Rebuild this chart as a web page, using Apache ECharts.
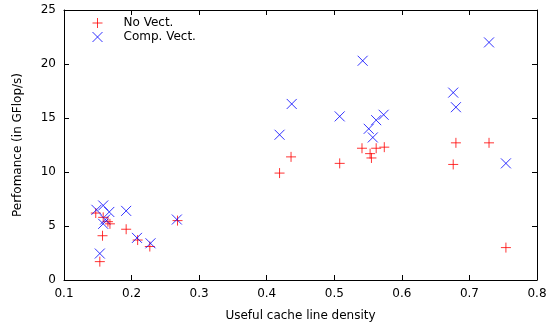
<!DOCTYPE html>
<html>
<head>
<meta charset="utf-8">
<script src="https://cdn.jsdelivr.net/npm/echarts@6/dist/echarts.min.js"></script>
<style>
  html, body { margin: 0; padding: 0; background: #fff; }
  #chart { width: 547px; height: 324px; }
</style>
</head>
<body>
<div id="chart"></div>
<script>
// values
const noVectX = [0.147, 0.158, 0.165, 0.168, 0.157, 0.153, 0.192, 0.209, 0.227, 0.268, 0.419, 0.436, 0.508, 0.541, 0.553, 0.555, 0.562, 0.574, 0.676, 0.680, 0.729, 0.754];
const noVectY = [6.2, 5.8, 5.4, 5.2, 4.1, 1.7, 4.7, 3.7, 3.1, 5.5, 9.9, 11.4, 10.8, 12.2, 11.7, 11.3, 12.2, 12.3, 10.7, 12.7, 12.7, 3.0];
const compX = [0.148, 0.158, 0.167, 0.161, 0.158, 0.153, 0.192, 0.208, 0.228, 0.267, 0.419, 0.437, 0.508, 0.542, 0.551, 0.557, 0.562, 0.573, 0.676, 0.680, 0.729, 0.754];
const compY = [6.5, 6.9, 6.3, 5.6, 5.2, 2.45, 6.4, 3.9, 3.4, 5.6, 13.45, 16.3, 15.15, 20.3, 14.0, 13.2, 14.8, 15.3, 17.35, 16.0, 22.0, 10.8];
const seriesNames = ["No Vect.", "Comp. Vect."];

const plus = "path://M0,5L10,5M5,0L5,10";
const cross = "path://M0,0L10,10M10,0L0,10";
const font = "DejaVu Sans";

const zip = (xs, ys) => xs.map((x, i) => [x, ys[i]]);

const tickIn = { show: true, inside: true, length: 5, lineStyle: { color: "#000" } };
const line = { show: true, onZero: false, lineStyle: { color: "#000", width: 1 } };
const redStyle = { color: "rgba(0,0,0,0)", borderColor: "#ff0000", borderWidth: 1 };
const blueStyle = { color: "rgba(0,0,0,0)", borderColor: "#0000ff", borderWidth: 1 };

const option = {
  animation: false,
  backgroundColor: "#fff",
  grid: { left: 64, right: 10, top: 10, bottom: 44, outerBoundsMode: "none" },
  legend: {
    left: 87,
    top: 12,
    orient: "vertical",
    itemWidth: 42,
    itemHeight: 10,
    itemGap: 2,
    textStyle: { fontFamily: font, fontSize: 12, color: "#000" },
    data: [
      { name: seriesNames[0], icon: plus, itemStyle: redStyle },
      { name: seriesNames[1], icon: cross, itemStyle: blueStyle }
    ]
  },
  xAxis: [
    {
      type: "value", min: 0.1, max: 0.8, interval: 0.1,
      name: "Useful cache line density", nameLocation: "middle", nameGap: 30,
      nameTextStyle: { fontFamily: font, fontSize: 12, color: "#000" },
      axisLine: line, axisTick: tickIn, splitLine: { show: false },
      axisLabel: { fontFamily: font, fontSize: 12, color: "#000", margin: 8,
        formatter: v => v.toFixed(1) }
    },
    {
      type: "value", position: "top", min: 0.1, max: 0.8, interval: 0.1,
      axisLine: line, axisTick: tickIn, splitLine: { show: false }, axisLabel: { show: false }
    }
  ],
  yAxis: [
    {
      type: "value", min: 0, max: 25, interval: 5,
      name: "Perfomance (in GFlop/s)", nameLocation: "middle", nameGap: 40,
      nameTextStyle: { fontFamily: font, fontSize: 12, color: "#000" },
      axisLine: line, axisTick: tickIn, splitLine: { show: false },
      axisLabel: { fontFamily: font, fontSize: 12, color: "#000", margin: 8 }
    },
    {
      type: "value", position: "right", min: 0, max: 25, interval: 5,
      axisLine: line, axisTick: tickIn, splitLine: { show: false }, axisLabel: { show: false }
    }
  ],
  series: [
    {
      name: seriesNames[0], type: "scatter", symbol: plus, symbolSize: 10,
      itemStyle: redStyle,
      data: zip(noVectX, noVectY)
    },
    {
      name: seriesNames[1], type: "scatter", symbol: cross, symbolSize: 10,
      itemStyle: blueStyle,
      data: zip(compX, compY)
    }
  ]
};

const chart = echarts.init(document.getElementById("chart"), null, { renderer: "canvas" });
chart.setOption(option);
</script>
</body>
</html>
